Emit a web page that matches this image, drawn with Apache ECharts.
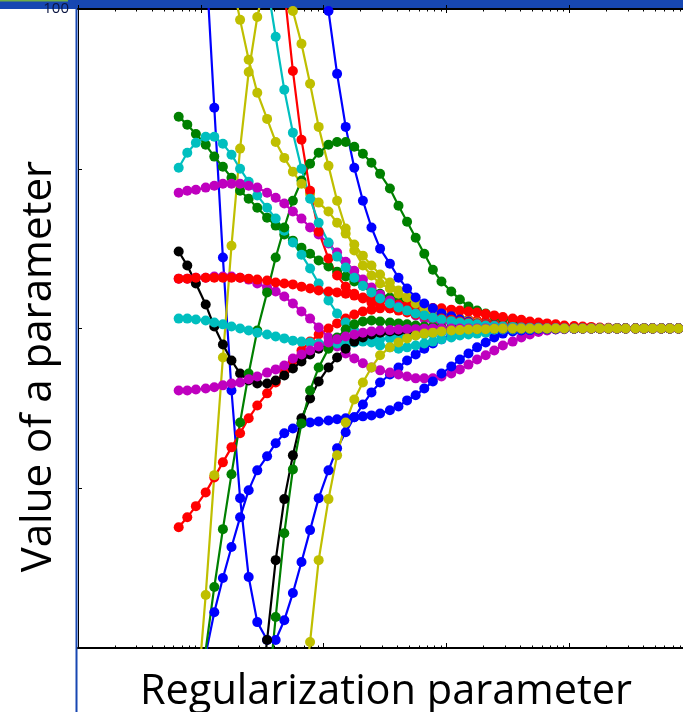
<!DOCTYPE html>
<html><head><meta charset="utf-8">
<script src="https://cdn.jsdelivr.net/npm/echarts@6/dist/echarts.min.js"></script>
<style>html,body{margin:0;padding:0;background:#fff;overflow:hidden}#c{width:683px;height:712px}</style>
</head><body><div id="c"></div>
<script>
// log10 of the regularization parameter at each computed point
const xExp = [-3.18,-3.11,-3.04,-2.96,-2.89,-2.82,-2.75,-2.68,-2.61,-2.54,
 -2.46,-2.39,-2.32,-2.25,-2.18,-2.11,-2.04,-1.96,-1.89,-1.82,
 -1.75,-1.68,-1.61,-1.54,-1.46,-1.39,-1.32,-1.25,-1.18,-1.11,
 -1.04,-0.96,-0.89,-0.82,-0.75,-0.68,-0.61,-0.54,-0.46,-0.39,
 -0.32,-0.25,-0.18,-0.11,-0.04,0.04,0.11,0.18,0.25,0.32,
 0.39,0.46,0.54,0.61,0.68,0.75,0.82,0.89,0.96];

const b1 = [200,180,150,116.6,69.1,22.2,-19.4,-53.1,-77.8,-91.9,
 -97.5,-97.5,-91.3,-82.8,-73.1,-63.1,-53.1,-44.4,-37.5,-32.5,
 -27.8,-23.8,-20,-16.9,-14.4,-12.2,-10,-8.1,-6.3,-4.7,
 -3.4,-2.2,-1.3,-0.6,-0.3,-0.2,-0.1,-0.1,0,0,
 0,0,0,0,0,0,0,0,0,0,
 0,0,0,0,0,0,0,0,0];
const b2 = [-190,-160,-130,-102,-88.8,-78.1,-68.4,-59.1,-50.6,-44.4,
 -40,-35.9,-32.8,-31.3,-29.7,-29.4,-29.1,-28.8,-28.4,-28.1,
 -27.8,-27.5,-27.2,-26.6,-25.6,-24.4,-22.5,-20.9,-18.8,-16.6,
 -14.1,-11.9,-9.7,-7.8,-5.9,-4.4,-2.8,-1.6,-0.9,-0.6,
 -0.5,-0.3,-0.2,-0.2,-0.1,-0.1,0,0,0,0,
 0,0,0,0,0,0,0,0,0];
const b3 = [900,800,700,620,550,480,420,370,320,280,
 260,235,210,188,168,145,121,99.4,79.7,63.1,
 50.3,40,31.6,25,20.3,15.9,12.5,9.7,7.8,6.3,
 4.7,3.8,2.8,2.2,1.6,1.3,0.9,0.6,0.5,0.3,
 0.2,0.2,0.1,0.1,0.1,0,0,0,0,0,
 0,0,0,0,0,0,0,0,0];
const g1 = [66.3,63.8,60.9,57.5,53.8,50.6,47.2,43.1,40.6,37.8,
 34.7,32.2,29.4,27.5,25.3,23.4,21.3,19.4,17.8,16.3,
 14.7,13.4,12.2,10.9,9.7,8.8,7.8,6.9,5.9,5,
 4.1,3.4,2.8,2.2,1.6,1.3,0.9,0.6,0.5,0.3,
 0.2,0.2,0.1,0.1,0.1,0,0,0,0,0,
 0,0,0,0,0,0,0,0,0];
const g2 = [-250,-200,-150,-100.6,-80.9,-62.8,-45.6,-29.4,-14.1,-0.6,
 11.3,22.2,31.6,40,46.3,51.6,55,57.5,58.4,58.4,
 56.9,54.7,51.9,48.4,43.8,38.4,33.4,28.4,23.4,18.4,
 14.7,11.6,9.1,6.9,5.6,4.7,3.8,3.1,2.5,1.9,
 1.6,1.3,0.9,0.6,0.5,0.3,0.2,0.2,0.1,0.1,
 0.1,0,0,0,0,0,0,0,0];
const g3 = [-500,-450,-400,-350,-300,-260,-220,-190,-160,-140,
 -118,-90.3,-64.1,-44.1,-29.7,-19.4,-12.2,-6.3,-2.8,-0.3,
 1.3,2.2,2.5,2.2,1.9,1.6,1.3,0.9,0.6,0.5,
 0.3,0.2,0.2,0.1,0.1,0,0,0,0,0,
 0,0,0,0,0,0,0,0,0,0,
 0,0,0,0,0,0,0,0,0];
const r1 = [15.6,15.6,15.9,15.9,15.9,15.9,15.9,15.9,15.6,15.3,
 15,14.4,14.1,13.8,13.1,12.5,11.9,11.6,11.3,10.9,
 10.3,9.7,9.4,8.8,8.1,7.5,7.2,6.9,6.6,6.4,
 6.3,5.9,5.6,5.3,5,4.5,4.1,3.6,3.1,2.7,
 2.2,1.9,1.6,1.3,0.9,0.8,0.6,0.5,0.3,0.2,
 0.1,0.1,0.1,0,0,0,0,0,0];
const r2 = [-62.2,-59.1,-55.6,-51.3,-46.6,-41.9,-37.2,-32.8,-28.1,-24.1,
 -20.3,-16.9,-13.4,-10,-6.9,-4.1,-1.9,0,1.6,3.1,
 4.4,5.3,5.9,6.3,6.3,5.9,5.6,5.3,4.7,4.4,
 4.1,3.6,3.1,2.8,2.5,2.2,1.9,1.6,1.3,0.9,
 0.8,0.6,0.5,0.3,0.2,0.2,0.1,0.1,0,0,
 0,0,0,0,0,0,0,0,0];
const r3 = [600,520,450,390,340,295,255,220,190,165,
 145,125,106,80.6,59.1,43.1,30.3,21.9,16.6,13.1,
 10.9,9.4,8.1,7.2,6.3,5.6,5,4.4,3.9,3.4,
 3.1,2.7,2.2,1.9,1.6,1.3,0.9,0.8,0.6,0.5,
 0.3,0.2,0.2,0.1,0.1,0,0,0,0,0,
 0,0,0,0,0,0,0,0,0];
const c1 = [50.3,55,58.1,60,60,57.8,54.4,50,45.9,41.6,
 37.8,34.4,30.6,26.9,23.1,18.8,14.1,8.8,4.7,1.9,
 -0.6,-2.8,-4.4,-5.3,-5.9,-6.3,-5.9,-5.3,-4.7,-4.1,
 -3.4,-2.8,-2.2,-1.9,-1.6,-1.3,-0.9,-0.8,-0.6,-0.5,
 -0.4,-0.3,-0.2,-0.2,-0.1,-0.1,0,0,0,0,
 0,0,0,0,0,0,0,0,0];
const c2 = [3.1,3.1,2.8,2.5,1.9,1.3,0.6,0,-0.6,-1.3,
 -1.9,-2.5,-3.1,-3.8,-4.1,-4.4,-4.7,-4.7,-4.7,-4.7,
 -4.4,-4.1,-3.8,-3.4,-3.1,-2.8,-2.5,-2.2,-1.9,-1.6,
 -1.3,-1.1,-0.9,-0.8,-0.6,-0.5,-0.4,-0.3,-0.3,-0.2,
 -0.2,-0.1,-0.1,0,0,0,0,0,0,0,
 0,0,0,0,0,0,0,0,0];
const c3 = [400,350,300,260,225,195,170,150,133,120,
 108,91.3,74.7,61.3,50,40.6,33.1,26.9,22.5,19.1,
 15.9,13.4,11.3,9.4,7.8,6.6,5.6,4.7,4.1,3.4,
 2.8,2.3,1.9,1.6,1.3,0.9,0.8,0.6,0.5,0.3,
 0.2,0.2,0.1,0.1,0,0,0,0,0,0,
 0,0,0,0,0,0,0,0,0];
const m1 = [42.5,43.1,43.4,44.1,44.7,45.3,45.3,45.3,44.7,44.1,
 42.5,40.9,39.1,36.6,34.4,31.6,29.4,26.6,23.8,20.9,
 18.1,15.3,12.8,10.6,8.8,6.9,5.3,4.1,3.1,2.5,
 1.9,1.6,1.3,0.9,0.6,0.5,0.3,0.2,0.2,0.1,
 0.1,0,0,0,0,0,0,0,0,0,
 0,0,0,0,0,0,0,0,0];
const m2 = [15.6,15.6,15.9,15.9,16.3,16.3,16.3,15.9,15.3,14.1,
 12.8,11.6,10,7.8,5.3,3.1,0.3,-2.8,-5.6,-7.8,
 -9.4,-10.9,-12.2,-13.1,-13.8,-14.4,-15,-15.6,-15.6,-15.6,
 -15,-14.1,-12.8,-11.3,-9.7,-8.4,-6.9,-5.3,-4.1,-2.8,
 -1.9,-1.1,-0.6,-0.3,-0.2,-0.1,0,0,0,0,
 0,0,0,0,0,0,0,0,0];
const m3 = [-19.4,-19.4,-19.1,-18.8,-18.4,-17.8,-17.2,-16.9,-15.9,-15,
 -13.8,-12.8,-11.6,-9.4,-8.1,-6.9,-5.6,-4.4,-3.4,-2.5,
 -1.9,-1.3,-0.9,-0.6,-0.5,-0.3,-0.2,-0.2,-0.1,0,
 0,0,0,0,0,0,0,0,0,0,
 0,0,0,0,0,0,0,0,0,0,
 0,0,0,0,0,0,0,0,0];
const k1 = [24.1,19.7,14.1,7.5,0.6,-5,-10,-14.1,-16.3,-17.2,
 -17.2,-16.3,-14.7,-12.5,-10.3,-8.1,-6.3,-4.7,-3.8,-3.1,
 -2.5,-2.2,-1.9,-1.6,-1.4,-1.3,-1.1,-0.9,-0.8,-0.6,
 -0.6,-0.5,-0.4,-0.3,-0.3,-0.2,-0.2,-0.1,-0.1,0,
 0,0,0,0,0,0,0,0,0,0,
 0,0,0,0,0,0,0,0,0];
const k2 = [-400,-360,-320,-285,-250,-220,-195,-170,-150,-125,
 -97.5,-72.5,-53.4,-39.7,-28.1,-21.9,-16.6,-12.2,-9.1,-6.3,
 -4.1,-2.8,-1.9,-1.3,-0.9,-0.8,-0.6,-0.5,-0.4,-0.3,
 -0.3,-0.2,-0.2,-0.1,-0.1,0,0,0,0,0,
 0,0,0,0,0,0,0,0,0,0,
 0,0,0,0,0,0,0,0,0];
const y1 = [-200,-165,-121,-83.4,-45.9,-9.1,25.9,56.3,80.3,97.5,
 112,120,112,99.4,89.1,76.6,63.1,50.9,40,31.3,
 24.4,19.7,16.6,14.1,12.5,10.9,9.7,8.4,7.2,5.9,
 5,4.1,3.1,2.5,1.9,1.4,0.9,0.6,0.3,0.2,
 0.2,0.1,0,0,0,0,0,0,0,0,
 0,0,0,0,0,0,0,0,0];
const y2 = [225,205,185,165,145,126,110,96.6,84.1,73.8,
 65.6,58.4,53.4,49.1,45.3,42.2,39.4,36.6,33.1,29.7,
 26.3,22.8,19.7,16.9,14.4,11.9,9.7,7.8,6.3,5,
 4.1,3.1,2.5,1.9,1.4,0.9,0.6,0.5,0.3,0.2,
 0.1,0,0,0,0,0,0,0,0,0,
 0,0,0,0,0,0,0,0,0];
const y4 = [-600,-560,-520,-480,-440,-400,-360,-320,-285,-250,
 -220,-190,-165,-140,-122,-98.1,-72.5,-53.4,-39.7,-29.4,
 -22.2,-16.9,-12.2,-8.4,-5.9,-4.4,-3.1,-2.2,-1.6,-1.3,
 -0.9,-0.6,-0.5,-0.3,-0.2,-0.2,-0.1,0,0,0,
 0,0,0,0,0,0,0,0,0,0,
 0,0,0,0,0,0,0,0,0];

// drawing order (later on top) and colours
const seriesList = [b1,g1,r2,c1,m2,y1,k1, b2,g2,r1,c2,m1,y2,k2, b3,g3,r3,c3,m3,y4];
const colorCycle = ['#0000ff','#008000','#ff0000','#00bfbf','#bf00bf','#bfbf00','#000000'];

const yTickLabel = '100';
const xName = 'Regularization parameter';
const yName = 'Value of a parameter';

const xMin = -4, xMax = 0.927;
const majors = [-4,-3,-2,-1,0];
const minors = [];
for (let d = -4; d <= 0; d++) for (let k = 2; k <= 9; k++) {
  const v = d + Math.log10(k);
  if (v < xMax) minors.push(v);
}

const chart = echarts.init(document.getElementById('c'), null, {renderer:'canvas'});
const baseX = {type:'value', min:xMin, max:xMax, splitLine:{show:false}, axisLabel:{show:false}, gridIndex:0};
const tickStyle = {color:'#000', width:1};
const option = {
  animation:false,
  backgroundColor:'#fff',
  grid:{left:78, right:0, top:9, bottom:64, containLabel:false, outerBoundsMode:'none'},
  graphic:[
    {type:'rect', z:-10, silent:true, shape:{x:0,y:0,width:683,height:9}, style:{fill:'#1747b2'}},
    {type:'rect', z:-9, silent:true, shape:{x:0,y:0,width:68,height:1.5}, style:{fill:'#70ad47'}},
    {type:'rect', z:-10, silent:true, shape:{x:75.5,y:0,width:2,height:712}, style:{fill:'#1747b2'}}
  ],
  xAxis:[
    Object.assign({}, baseX, {position:'bottom',
      axisLine:{show:true, onZero:false, lineStyle:{color:'#000', width:2}},
      axisTick:{show:true, inside:true, length:5, customValues:majors, lineStyle:tickStyle},
      name:xName, nameLocation:'middle', nameGap:23, nameMoveOverlap:false,
      nameTextStyle:{fontFamily:'Open Sans', fontSize:41.5, color:'#000', padding:[0,0,0,11]}}),
    Object.assign({}, baseX, {position:'bottom',
      axisLine:{show:false, onZero:false},
      axisTick:{show:true, inside:true, length:2.5, customValues:minors, lineStyle:tickStyle}}),
    Object.assign({}, baseX, {position:'top',
      axisLine:{show:true, onZero:false, lineStyle:{color:'#000', width:2}},
      axisTick:{show:true, inside:true, length:4, customValues:majors, lineStyle:tickStyle}}),
    Object.assign({}, baseX, {position:'top',
      axisLine:{show:false, onZero:false},
      axisTick:{show:true, inside:false, length:4, customValues:majors, lineStyle:tickStyle}}),
    Object.assign({}, baseX, {position:'top',
      axisLine:{show:false, onZero:false},
      axisTick:{show:true, inside:true, length:2.5, customValues:minors, lineStyle:tickStyle}})
  ],
  yAxis:[{
    type:'value', min:-100, max:100, interval:50, position:'left',
    axisLine:{show:true, onZero:false, lineStyle:{color:'#000', width:1}},
    axisTick:{show:true, inside:true, length:4, lineStyle:tickStyle},
    splitLine:{show:false},
    axisLabel:{show:true, margin:9, fontFamily:'Open Sans', fontSize:15, color:'#0a1440',
      padding:[0,0,7,0],
      formatter:v => (String(v) === yTickLabel ? yTickLabel : '')},
    name:yName, nameLocation:'middle', nameGap:18, nameMoveOverlap:false,
    nameTextStyle:{fontFamily:'Open Sans', fontSize:42, color:'#000', padding:[0,76,0,0]}
  }],
  series: seriesList.map((arr, idx) => {
    const col = colorCycle[idx % colorCycle.length];
    return {
      type:'line', xAxisIndex:0, yAxisIndex:0, clip:true, silent:true,
      data: xExp.map((x, i) => [x, arr[i]]),
      symbol:'circle', symbolSize:10, showSymbol:true, showAllSymbol:true,
      lineStyle:{width:2.2, color:col}, itemStyle:{color:col}
    };
  })
};
chart.setOption(option);
</script>
</body></html>
